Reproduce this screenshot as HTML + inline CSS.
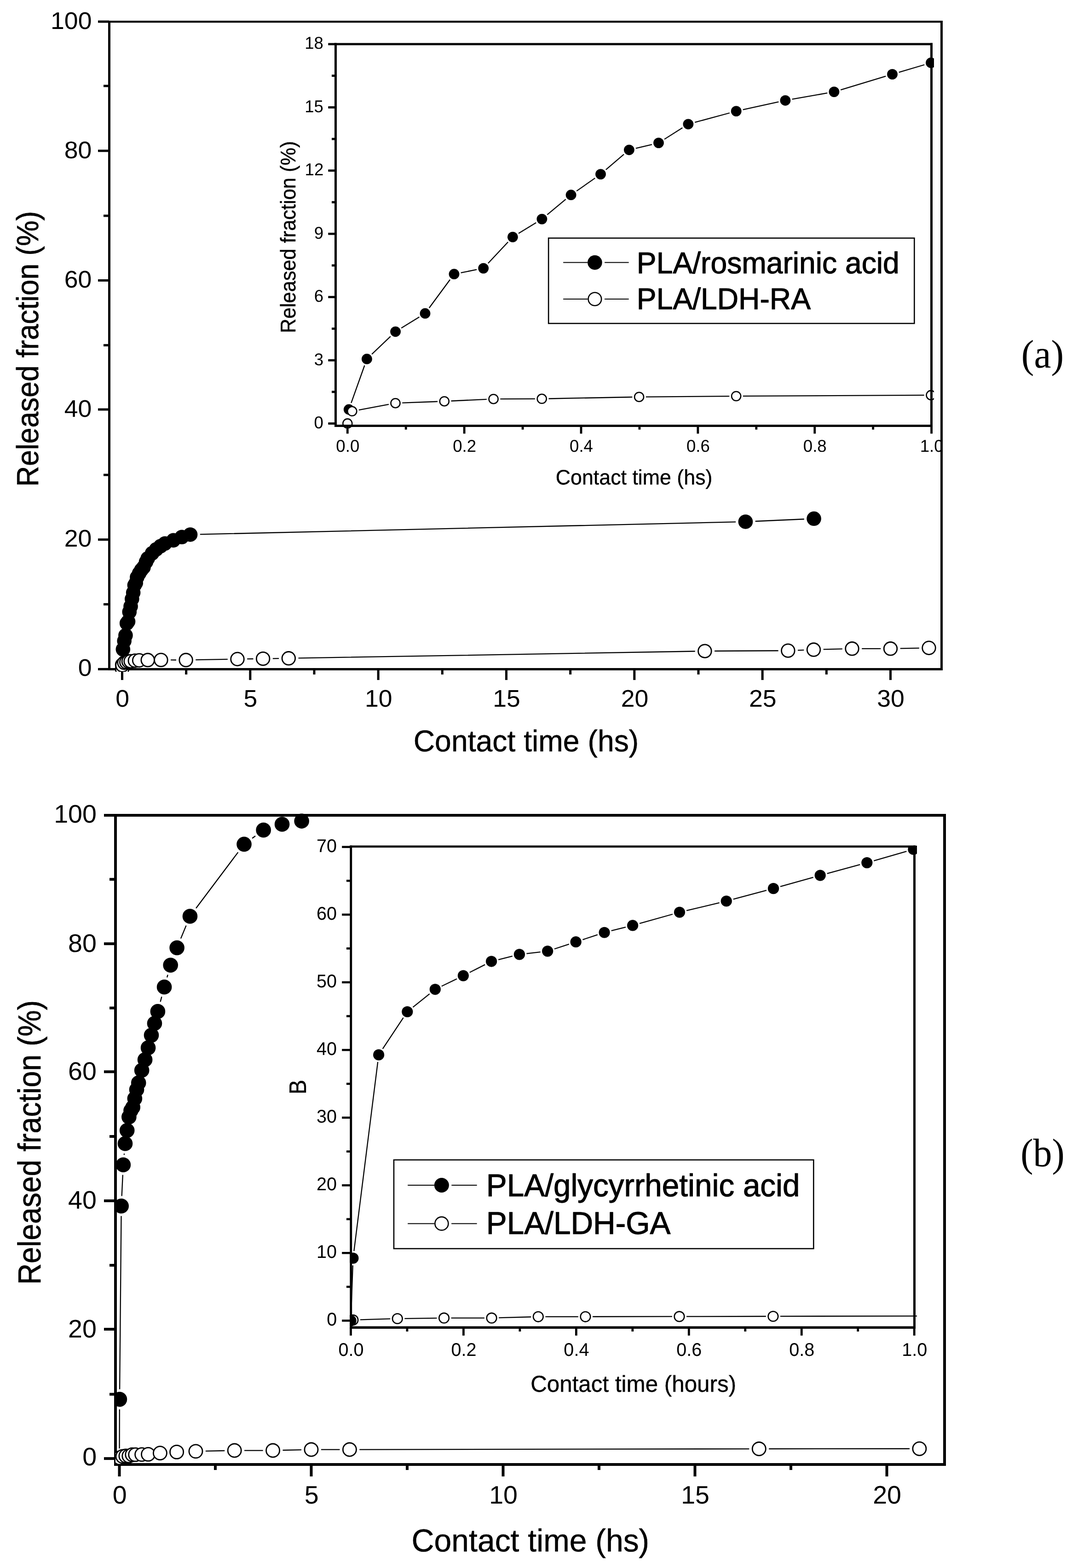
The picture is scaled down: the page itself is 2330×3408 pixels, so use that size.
<!DOCTYPE html>
<html lang="en"><head><meta charset="utf-8"><title>Release kinetics of PLA films</title>
<style>html,body{margin:0;padding:0;background:#fff}svg{display:block}text{fill:#000;white-space:pre}</style></head><body>
<svg width="2330" height="3408" viewBox="0 0 2330 3408" role="img" aria-label="Release kinetics figure" text-rendering="geometricPrecision">
<rect width="2330" height="3408" fill="#fff"/>
<defs>
<clipPath id="cA"><rect x="232" y="42" width="1820" height="1418"/></clipPath>
<clipPath id="cAi"><rect x="724" y="90" width="1306" height="841"/></clipPath>
<clipPath id="cAt"><rect x="0" y="0" width="2044" height="1700"/></clipPath>
<clipPath id="cB"><rect x="251" y="1766" width="1808" height="1422"/></clipPath>
<clipPath id="cBi"><rect x="760.4" y="1838" width="1232.6" height="1053"/></clipPath>
</defs>
<g id="plot-a">
<rect x="235" y="45" width="1814" height="4.3" fill="#000"/>
<rect x="235" y="1452" width="1814" height="5" fill="#000"/>
<rect x="235" y="45" width="5" height="1412" fill="#000"/>
<rect x="2044" y="45" width="5" height="1412" fill="#000"/>
<rect x="213" y="1451.9" width="24" height="5" fill="#000"/>
<rect x="225" y="1310.9" width="12" height="5" fill="#000"/>
<rect x="213" y="1170.3" width="24" height="5" fill="#000"/>
<rect x="225" y="1029.7" width="12" height="5" fill="#000"/>
<rect x="213" y="887.5" width="24" height="5" fill="#000"/>
<rect x="225" y="747.8" width="12" height="5" fill="#000"/>
<rect x="213" y="607" width="24" height="5" fill="#000"/>
<rect x="225" y="466.5" width="12" height="5" fill="#000"/>
<rect x="213" y="325.3" width="24" height="5" fill="#000"/>
<rect x="225" y="184.3" width="12" height="5" fill="#000"/>
<rect x="213" y="44.5" width="24" height="5" fill="#000"/>
<rect x="263" y="1455" width="5" height="23" fill="#000"/>
<rect x="402.17" y="1455" width="5" height="11" fill="#000"/>
<rect x="541.34" y="1455" width="5" height="23" fill="#000"/>
<rect x="680.5" y="1455" width="5" height="11" fill="#000"/>
<rect x="819.67" y="1455" width="5" height="23" fill="#000"/>
<rect x="958.84" y="1455" width="5" height="11" fill="#000"/>
<rect x="1098.01" y="1455" width="5" height="23" fill="#000"/>
<rect x="1237.17" y="1455" width="5" height="11" fill="#000"/>
<rect x="1376.34" y="1455" width="5" height="23" fill="#000"/>
<rect x="1515.51" y="1455" width="5" height="11" fill="#000"/>
<rect x="1654.67" y="1455" width="5" height="23" fill="#000"/>
<rect x="1793.84" y="1455" width="5" height="11" fill="#000"/>
<rect x="1933.01" y="1455" width="5" height="23" fill="#000"/>
<text transform="translate(169.8 1468.5) scale(1.0229 1)" font-family="'Liberation Sans', sans-serif" font-size="52.4">0</text>
<text transform="translate(139.78 1188.2) scale(1.0229 1)" font-family="'Liberation Sans', sans-serif" font-size="52.4">20</text>
<text transform="translate(139.78 905.7) scale(1.0229 1)" font-family="'Liberation Sans', sans-serif" font-size="52.4">40</text>
<text transform="translate(139.78 624.6) scale(1.0229 1)" font-family="'Liberation Sans', sans-serif" font-size="52.4">60</text>
<text transform="translate(139.78 344) scale(1.0229 1)" font-family="'Liberation Sans', sans-serif" font-size="52.4">80</text>
<text transform="translate(110.03 62.6) scale(1.0229 1)" font-family="'Liberation Sans', sans-serif" font-size="52.4">100</text>
<text transform="translate(266.1 1536) scale(1.0229 1)" text-anchor="middle" font-family="'Liberation Sans', sans-serif" font-size="52.4">0</text>
<text transform="translate(544.44 1536) scale(1.0229 1)" text-anchor="middle" font-family="'Liberation Sans', sans-serif" font-size="52.4">5</text>
<text transform="translate(822.77 1536) scale(1.0229 1)" text-anchor="middle" font-family="'Liberation Sans', sans-serif" font-size="52.4">10</text>
<text transform="translate(1101.11 1536) scale(1.0229 1)" text-anchor="middle" font-family="'Liberation Sans', sans-serif" font-size="52.4">15</text>
<text transform="translate(1379.44 1536) scale(1.0229 1)" text-anchor="middle" font-family="'Liberation Sans', sans-serif" font-size="52.4">20</text>
<text transform="translate(1657.77 1536) scale(1.0229 1)" text-anchor="middle" font-family="'Liberation Sans', sans-serif" font-size="52.4">25</text>
<text transform="translate(1936.11 1536) scale(1.0229 1)" text-anchor="middle" font-family="'Liberation Sans', sans-serif" font-size="52.4">30</text>
<text transform="translate(898.68 1633.2) scale(0.9817 1)" font-family="'Liberation Sans', sans-serif" font-size="65.5" stroke="#000" stroke-width="0.5" stroke-linejoin="round">Contact time (hs)</text>
<text transform="translate(83.2 1057.68) rotate(-90) scale(0.9368 1)" font-family="'Liberation Sans', sans-serif" font-size="66.5" stroke="#000" stroke-width="0.7" stroke-linejoin="round">Released fraction (%)</text>
<g clip-path="url(#cA)">
<path d="M434.87 1161.45L1599.14 1134.43M1641.71 1132.99L1747.79 1128.27" fill="none" stroke="#000" stroke-width="2.3"/>
<circle cx="265.63" cy="1445.04" r="15.8" fill="#000"/>
<circle cx="267.35" cy="1411.33" r="15.8" fill="#000"/>
<circle cx="270.14" cy="1393.11" r="15.8" fill="#000"/>
<circle cx="272.92" cy="1380.93" r="15.8" fill="#000"/>
<circle cx="275.7" cy="1354.76" r="15.8" fill="#000"/>
<circle cx="278.49" cy="1350.82" r="15.8" fill="#000"/>
<circle cx="281.27" cy="1329.99" r="15.8" fill="#000"/>
<circle cx="284.05" cy="1318.02" r="15.8" fill="#000"/>
<circle cx="286.84" cy="1301.84" r="15.8" fill="#000"/>
<circle cx="289.62" cy="1288.05" r="15.8" fill="#000"/>
<circle cx="292.4" cy="1271.86" r="15.8" fill="#000"/>
<circle cx="295.19" cy="1267.22" r="15.8" fill="#000"/>
<circle cx="297.97" cy="1254.69" r="15.8" fill="#000"/>
<circle cx="302.61" cy="1245.96" r="15.8" fill="#000"/>
<circle cx="307.25" cy="1238.79" r="15.8" fill="#000"/>
<circle cx="311.89" cy="1233.16" r="15.8" fill="#000"/>
<circle cx="317.45" cy="1221.33" r="15.8" fill="#000"/>
<circle cx="321.17" cy="1213.73" r="15.8" fill="#000"/>
<circle cx="330.63" cy="1202.48" r="15.8" fill="#000"/>
<circle cx="339.54" cy="1194.03" r="15.8" fill="#000"/>
<circle cx="349" cy="1186.99" r="15.8" fill="#000"/>
<circle cx="358.46" cy="1181.36" r="15.8" fill="#000"/>
<circle cx="376.83" cy="1174.33" r="15.8" fill="#000"/>
<circle cx="395.2" cy="1167.29" r="15.8" fill="#000"/>
<circle cx="413.57" cy="1161.94" r="15.8" fill="#000"/>
<circle cx="1620.43" cy="1133.94" r="15.8" fill="#000"/>
<circle cx="1769.07" cy="1127.32" r="15.8" fill="#000"/>
</g>
<g clip-path="url(#cA)">
<path d="M371.09 1434.47L382.91 1434.5M425.31 1434.17L494.81 1432.89M537.2 1432.2L550.47 1432M592.87 1431.36L606.14 1431.14M648.53 1430.43L1510.73 1415.5M1553.12 1415.02L1691.64 1414.26M1734.03 1413.34L1747.32 1412.84M1789.7 1411.47L1830.82 1410.36M1873.21 1409.79L1914.31 1409.79M1956.71 1409.39L1997.81 1408.63" fill="none" stroke="#000" stroke-width="2.3"/>
<circle cx="265.5" cy="1454.4" r="14.3" fill="#fff" stroke="#000" stroke-width="2.8"/>
<circle cx="265.95" cy="1445.96" r="14.3" fill="#fff" stroke="#000" stroke-width="2.8"/>
<circle cx="270.14" cy="1440.33" r="14.3" fill="#fff" stroke="#000" stroke-width="2.8"/>
<circle cx="274.78" cy="1439.2" r="14.3" fill="#fff" stroke="#000" stroke-width="2.8"/>
<circle cx="279.42" cy="1437.51" r="14.3" fill="#fff" stroke="#000" stroke-width="2.8"/>
<circle cx="284.05" cy="1437.23" r="14.3" fill="#fff" stroke="#000" stroke-width="2.8"/>
<circle cx="293.33" cy="1435.96" r="14.3" fill="#fff" stroke="#000" stroke-width="2.8"/>
<circle cx="302.61" cy="1435.26" r="14.3" fill="#fff" stroke="#000" stroke-width="2.8"/>
<circle cx="321.17" cy="1434.56" r="14.3" fill="#fff" stroke="#000" stroke-width="2.8"/>
<circle cx="349.89" cy="1434.41" r="14.3" fill="#fff" stroke="#000" stroke-width="2.8"/>
<circle cx="404.11" cy="1434.56" r="14.3" fill="#fff" stroke="#000" stroke-width="2.8"/>
<circle cx="516" cy="1432.5" r="14.3" fill="#fff" stroke="#000" stroke-width="2.8"/>
<circle cx="571.67" cy="1431.7" r="14.3" fill="#fff" stroke="#000" stroke-width="2.8"/>
<circle cx="627.34" cy="1430.8" r="14.3" fill="#fff" stroke="#000" stroke-width="2.8"/>
<circle cx="1531.92" cy="1415.13" r="14.3" fill="#fff" stroke="#000" stroke-width="2.8"/>
<circle cx="1712.84" cy="1414.15" r="14.3" fill="#fff" stroke="#000" stroke-width="2.8"/>
<circle cx="1768.51" cy="1412.04" r="14.3" fill="#fff" stroke="#000" stroke-width="2.8"/>
<circle cx="1852.01" cy="1409.79" r="14.3" fill="#fff" stroke="#000" stroke-width="2.8"/>
<circle cx="1935.51" cy="1409.79" r="14.3" fill="#fff" stroke="#000" stroke-width="2.8"/>
<circle cx="2019.01" cy="1408.24" r="14.3" fill="#fff" stroke="#000" stroke-width="2.8"/>
</g>
</g>
<g id="inset-a">
<text transform="translate(682.55 931) scale(0.9812 1)" font-family="'Liberation Sans', sans-serif" font-size="37.3">0</text>
<text transform="translate(682.73 793.57) scale(0.9812 1)" font-family="'Liberation Sans', sans-serif" font-size="37.3">3</text>
<text transform="translate(682.73 656.14) scale(0.9812 1)" font-family="'Liberation Sans', sans-serif" font-size="37.3">6</text>
<text transform="translate(682.73 518.71) scale(0.9812 1)" font-family="'Liberation Sans', sans-serif" font-size="37.3">9</text>
<text transform="translate(662.6 381.28) scale(0.9812 1)" font-family="'Liberation Sans', sans-serif" font-size="37.3">12</text>
<text transform="translate(662.24 243.85) scale(0.9812 1)" font-family="'Liberation Sans', sans-serif" font-size="37.3">15</text>
<text transform="translate(662.24 106.42) scale(0.9812 1)" font-family="'Liberation Sans', sans-serif" font-size="37.3">18</text>
<text transform="translate(755.8 982) scale(0.9812 1)" text-anchor="middle" font-family="'Liberation Sans', sans-serif" font-size="37.3">0.0</text>
<text transform="translate(1009.66 982) scale(0.9812 1)" text-anchor="middle" font-family="'Liberation Sans', sans-serif" font-size="37.3">0.2</text>
<text transform="translate(1263.52 982) scale(0.9812 1)" text-anchor="middle" font-family="'Liberation Sans', sans-serif" font-size="37.3">0.4</text>
<text transform="translate(1517.38 982) scale(0.9812 1)" text-anchor="middle" font-family="'Liberation Sans', sans-serif" font-size="37.3">0.6</text>
<text transform="translate(1771.24 982) scale(0.9812 1)" text-anchor="middle" font-family="'Liberation Sans', sans-serif" font-size="37.3">0.8</text>
<g clip-path="url(#cAt)"><text transform="translate(2025.1 982) scale(0.9812 1)" text-anchor="middle" font-family="'Liberation Sans', sans-serif" font-size="37.3">1.0</text></g>
<text transform="translate(1207.76 1052.6) scale(0.9814 1)" font-family="'Liberation Sans', sans-serif" font-size="45.6" stroke="#000" stroke-width="0.4" stroke-linejoin="round">Contact time (hs)</text>
<text transform="translate(642.4 723.77) rotate(-90) scale(0.9435 1)" font-family="'Liberation Sans', sans-serif" font-size="46" stroke="#000" stroke-width="0.5" stroke-linejoin="round">Released fraction (%)</text>
<g clip-path="url(#cAi)">
<path d="M763.3 875.96L792.4 794.24M808.18 769.91L848.82 731.09M872.29 713L911.31 689M932.84 669.2L978.16 607.7M1001.62 592.81L1036.08 585.99M1060.89 572.23L1104.21 525.97M1127.1 507.3L1165.2 483.9M1189.37 466.59L1229.63 433.21M1253.3 415.15L1293.3 387.15M1316.84 368.93L1356.06 335.47M1381.9 322.36L1417 314.04M1444.09 302.63L1483.31 277.77M1510.28 265.91L1585.82 245.49M1614.76 238.42L1692.34 221.48M1721.57 215.71L1798.23 202.19M1827.16 195.3L1925.24 165.7M1953.79 157.17L2009.21 140.73" fill="none" stroke="#000" stroke-width="2.3"/>
<circle cx="758.3" cy="890" r="11.4" fill="#000"/>
<circle cx="797.4" cy="780.2" r="11.4" fill="#000"/>
<circle cx="859.6" cy="720.8" r="11.4" fill="#000"/>
<circle cx="924" cy="681.2" r="11.4" fill="#000"/>
<circle cx="987" cy="595.7" r="11.4" fill="#000"/>
<circle cx="1050.7" cy="583.1" r="11.4" fill="#000"/>
<circle cx="1114.4" cy="515.1" r="11.4" fill="#000"/>
<circle cx="1177.9" cy="476.1" r="11.4" fill="#000"/>
<circle cx="1241.1" cy="423.7" r="11.4" fill="#000"/>
<circle cx="1305.5" cy="378.6" r="11.4" fill="#000"/>
<circle cx="1367.4" cy="325.8" r="11.4" fill="#000"/>
<circle cx="1431.5" cy="310.6" r="11.4" fill="#000"/>
<circle cx="1495.9" cy="269.8" r="11.4" fill="#000"/>
<circle cx="1600.2" cy="241.6" r="11.4" fill="#000"/>
<circle cx="1706.9" cy="218.3" r="11.4" fill="#000"/>
<circle cx="1812.9" cy="199.6" r="11.4" fill="#000"/>
<circle cx="1939.5" cy="161.4" r="11.4" fill="#000"/>
<circle cx="2023.5" cy="136.5" r="11.4" fill="#000"/>
</g>
<g clip-path="url(#cAi)">
<path d="M779.85 891.08L844.95 878.92M874.29 875.64L951.01 872.76M980.58 871.51L1057.82 867.89M1087.4 867.14L1162.9 866.86M1192.5 866.51L1374.3 862.99M1403.9 862.58L1585.3 861.12M1614.9 860.93L2008.7 858.97" fill="none" stroke="#000" stroke-width="2.3"/>
<circle cx="755.3" cy="920.4" r="10" fill="#fff" stroke="#000" stroke-width="2.6"/>
<circle cx="765.3" cy="893.8" r="10" fill="#fff" stroke="#000" stroke-width="2.6"/>
<circle cx="859.5" cy="876.2" r="10" fill="#fff" stroke="#000" stroke-width="2.6"/>
<circle cx="965.8" cy="872.2" r="10" fill="#fff" stroke="#000" stroke-width="2.6"/>
<circle cx="1072.6" cy="867.2" r="10" fill="#fff" stroke="#000" stroke-width="2.6"/>
<circle cx="1177.7" cy="866.8" r="10" fill="#fff" stroke="#000" stroke-width="2.6"/>
<circle cx="1389.1" cy="862.7" r="10" fill="#fff" stroke="#000" stroke-width="2.6"/>
<circle cx="1600.1" cy="861" r="10" fill="#fff" stroke="#000" stroke-width="2.6"/>
<circle cx="2023.5" cy="858.9" r="10" fill="#fff" stroke="#000" stroke-width="2.6"/>
</g>
<rect x="727" y="93.5" width="1300" height="4.8" fill="#000"/>
<rect x="727" y="923" width="1300" height="5" fill="#000"/>
<rect x="727" y="93.5" width="5" height="834.5" fill="#000"/>
<rect x="2022" y="93.5" width="5" height="834.5" fill="#000"/>
<rect x="713.3" y="918.1" width="15.7" height="4.8" fill="#000"/>
<rect x="721" y="849.38" width="8" height="4.8" fill="#000"/>
<rect x="713.3" y="780.67" width="15.7" height="4.8" fill="#000"/>
<rect x="721" y="711.96" width="8" height="4.8" fill="#000"/>
<rect x="713.3" y="643.24" width="15.7" height="4.8" fill="#000"/>
<rect x="721" y="574.52" width="8" height="4.8" fill="#000"/>
<rect x="713.3" y="505.81" width="15.7" height="4.8" fill="#000"/>
<rect x="721" y="437.1" width="8" height="4.8" fill="#000"/>
<rect x="713.3" y="368.38" width="15.7" height="4.8" fill="#000"/>
<rect x="721" y="299.66" width="8" height="4.8" fill="#000"/>
<rect x="713.3" y="230.95" width="15.7" height="4.8" fill="#000"/>
<rect x="721" y="162.23" width="8" height="4.8" fill="#000"/>
<rect x="713.3" y="93.52" width="15.7" height="4.8" fill="#000"/>
<rect x="752.9" y="925" width="4.8" height="17.5" fill="#000"/>
<rect x="879.83" y="925" width="4.8" height="8.7" fill="#000"/>
<rect x="1006.76" y="925" width="4.8" height="17.5" fill="#000"/>
<rect x="1133.69" y="925" width="4.8" height="8.7" fill="#000"/>
<rect x="1260.62" y="925" width="4.8" height="17.5" fill="#000"/>
<rect x="1387.55" y="925" width="4.8" height="8.7" fill="#000"/>
<rect x="1514.48" y="925" width="4.8" height="17.5" fill="#000"/>
<rect x="1641.41" y="925" width="4.8" height="8.7" fill="#000"/>
<rect x="1768.34" y="925" width="4.8" height="17.5" fill="#000"/>
<rect x="1895.27" y="925" width="4.8" height="8.7" fill="#000"/>
<rect x="2022.2" y="925" width="4.8" height="17.5" fill="#000"/>
<rect x="1192.2" y="517.5" width="795.1" height="185.5" fill="#fff" stroke="#000" stroke-width="2.6"/>
<path d="M1224.2 570.6H1277.1M1314.2 570.6H1366.6" fill="none" stroke="#000" stroke-width="2"/>
<circle cx="1292.9" cy="570.6" r="15.8" fill="#000"/>
<path d="M1224.2 650H1277.3M1314 650H1366.6" fill="none" stroke="#000" stroke-width="2"/>
<circle cx="1292.9" cy="650" r="14.3" fill="#fff" stroke="#000" stroke-width="2.6"/>
<text transform="translate(1383.86 593.8) scale(0.9802 1)" font-family="'Liberation Sans', sans-serif" font-size="65.5" stroke="#000" stroke-width="1.1" stroke-linejoin="round">PLA/rosmarinic acid</text>
<text transform="translate(1383.86 671.9) scale(0.9802 1)" font-family="'Liberation Sans', sans-serif" font-size="65.5" stroke="#000" stroke-width="1.1" stroke-linejoin="round">PLA/LDH-RA</text>
</g>
<text transform="translate(2219.86 798.7) scale(0.9552 1)" font-family="'Liberation Serif', serif" font-size="87">(a)</text>
<g id="plot-b">
<rect x="248" y="1769" width="1808" height="6" fill="#000"/>
<rect x="248" y="3180" width="1808" height="6" fill="#000"/>
<rect x="248" y="1769" width="6" height="1417" fill="#000"/>
<rect x="2050" y="1769" width="6" height="1417" fill="#000"/>
<rect x="226" y="3167.1" width="24" height="6" fill="#000"/>
<rect x="238" y="3027.4" width="12" height="6" fill="#000"/>
<rect x="226" y="2886" width="24" height="6" fill="#000"/>
<rect x="238" y="2747" width="12" height="6" fill="#000"/>
<rect x="226" y="2606.9" width="24" height="6" fill="#000"/>
<rect x="238" y="2467" width="12" height="6" fill="#000"/>
<rect x="226" y="2326.4" width="24" height="6" fill="#000"/>
<rect x="238" y="2187.8" width="12" height="6" fill="#000"/>
<rect x="226" y="2048.2" width="24" height="6" fill="#000"/>
<rect x="238" y="1908.2" width="12" height="6" fill="#000"/>
<rect x="226" y="1769" width="24" height="6" fill="#000"/>
<rect x="256.5" y="3183" width="6" height="26" fill="#000"/>
<rect x="465" y="3183" width="6" height="12" fill="#000"/>
<rect x="673.5" y="3183" width="6" height="26" fill="#000"/>
<rect x="882" y="3183" width="6" height="12" fill="#000"/>
<rect x="1090.5" y="3183" width="6" height="26" fill="#000"/>
<rect x="1299" y="3183" width="6" height="12" fill="#000"/>
<rect x="1507.5" y="3183" width="6" height="26" fill="#000"/>
<rect x="1716" y="3183" width="6" height="12" fill="#000"/>
<rect x="1924.5" y="3183" width="6" height="26" fill="#000"/>
<text transform="translate(179.17 3184.7) scale(1.0054 1)" font-family="'Liberation Sans', sans-serif" font-size="55.3">0</text>
<text transform="translate(148.03 2906.8) scale(1.0054 1)" font-family="'Liberation Sans', sans-serif" font-size="55.3">20</text>
<text transform="translate(148.03 2626.8) scale(1.0054 1)" font-family="'Liberation Sans', sans-serif" font-size="55.3">40</text>
<text transform="translate(148.03 2347.2) scale(1.0054 1)" font-family="'Liberation Sans', sans-serif" font-size="55.3">60</text>
<text transform="translate(148.03 2068.6) scale(1.0054 1)" font-family="'Liberation Sans', sans-serif" font-size="55.3">80</text>
<text transform="translate(117.17 1787.8) scale(1.0054 1)" font-family="'Liberation Sans', sans-serif" font-size="55.3">100</text>
<text transform="translate(260.1 3268.4) scale(1.0109 1)" text-anchor="middle" font-family="'Liberation Sans', sans-serif" font-size="55">0</text>
<text transform="translate(677.1 3268.4) scale(1.0109 1)" text-anchor="middle" font-family="'Liberation Sans', sans-serif" font-size="55">5</text>
<text transform="translate(1094.1 3268.4) scale(1.0109 1)" text-anchor="middle" font-family="'Liberation Sans', sans-serif" font-size="55">10</text>
<text transform="translate(1511.1 3268.4) scale(1.0109 1)" text-anchor="middle" font-family="'Liberation Sans', sans-serif" font-size="55">15</text>
<text transform="translate(1928.1 3268.4) scale(1.0109 1)" text-anchor="middle" font-family="'Liberation Sans', sans-serif" font-size="55">20</text>
<text transform="translate(894.61 3371.8) scale(0.9833 1)" font-family="'Liberation Sans', sans-serif" font-size="69" stroke="#000" stroke-width="0.5" stroke-linejoin="round">Contact time (hs)</text>
<text transform="translate(87.8 2792.34) rotate(-90) scale(0.9252 1)" font-family="'Liberation Sans', sans-serif" font-size="69.5" stroke="#000" stroke-width="0.7" stroke-linejoin="round">Released fraction (%)</text>
<g clip-path="url(#cB)">
<path d="M259.57 3148.2L259.85 3063.18M260.11 3019.58L263.48 2643.08M264.68 2599.51L266.83 2553.59M269.8 2510.1L270.05 2507.25M348.52 2177.33L351.46 2166.33M363.07 2124.31L364.68 2118.69M392.94 2039.85L404.62 2011.63M426.05 1974.05L517.46 1852.34M548.16 1822.05L555.06 1817.01" fill="none" stroke="#000" stroke-width="2.3"/>
<circle cx="259.5" cy="3170" r="16.3" fill="#000"/>
<circle cx="259.92" cy="3041.38" r="16.3" fill="#000"/>
<circle cx="263.67" cy="2621.28" r="16.3" fill="#000"/>
<circle cx="267.84" cy="2531.81" r="16.3" fill="#000"/>
<circle cx="272.01" cy="2485.54" r="16.3" fill="#000"/>
<circle cx="276.18" cy="2457.02" r="16.3" fill="#000"/>
<circle cx="280.35" cy="2427.66" r="16.3" fill="#000"/>
<circle cx="284.52" cy="2413.68" r="16.3" fill="#000"/>
<circle cx="288.69" cy="2406.69" r="16.3" fill="#000"/>
<circle cx="292.86" cy="2387.82" r="16.3" fill="#000"/>
<circle cx="297.03" cy="2368.25" r="16.3" fill="#000"/>
<circle cx="301.2" cy="2353.57" r="16.3" fill="#000"/>
<circle cx="308.15" cy="2326.31" r="16.3" fill="#000"/>
<circle cx="315.1" cy="2303.24" r="16.3" fill="#000"/>
<circle cx="322.05" cy="2277.38" r="16.3" fill="#000"/>
<circle cx="329" cy="2250.12" r="16.3" fill="#000"/>
<circle cx="335.95" cy="2224.25" r="16.3" fill="#000"/>
<circle cx="342.9" cy="2198.39" r="16.3" fill="#000"/>
<circle cx="357.08" cy="2145.27" r="16.3" fill="#000"/>
<circle cx="370.67" cy="2097.73" r="16.3" fill="#000"/>
<circle cx="384.6" cy="2059.99" r="16.3" fill="#000"/>
<circle cx="412.96" cy="1991.49" r="16.3" fill="#000"/>
<circle cx="530.55" cy="1834.91" r="16.3" fill="#000"/>
<circle cx="572.67" cy="1804.15" r="16.3" fill="#000"/>
<circle cx="613.12" cy="1791.57" r="16.3" fill="#000"/>
<circle cx="655.65" cy="1784.58" r="16.3" fill="#000"/>
</g>
<g clip-path="url(#cB)">
<path d="M446.91 3153.88L488.25 3152.99M531.15 3152.53L571.65 3152.53M614.54 3152.02L655.06 3151.07M697.95 3150.57L738.45 3150.57M781.35 3150.53L1628.33 3149.07M1671.23 3149.01L1976.94 3148.77" fill="none" stroke="#000" stroke-width="2.3"/>
<circle cx="259.5" cy="3170" r="14.55" fill="#fff" stroke="#000" stroke-width="2.8"/>
<circle cx="259.83" cy="3168.6" r="14.55" fill="#fff" stroke="#000" stroke-width="2.8"/>
<circle cx="266.45" cy="3165.39" r="14.55" fill="#fff" stroke="#000" stroke-width="2.8"/>
<circle cx="273.4" cy="3164.41" r="14.55" fill="#fff" stroke="#000" stroke-width="2.8"/>
<circle cx="280.35" cy="3164.41" r="14.55" fill="#fff" stroke="#000" stroke-width="2.8"/>
<circle cx="287.3" cy="3161.61" r="14.55" fill="#fff" stroke="#000" stroke-width="2.8"/>
<circle cx="294.25" cy="3161.61" r="14.55" fill="#fff" stroke="#000" stroke-width="2.8"/>
<circle cx="308.15" cy="3161.33" r="14.55" fill="#fff" stroke="#000" stroke-width="2.8"/>
<circle cx="322.05" cy="3160.91" r="14.55" fill="#fff" stroke="#000" stroke-width="2.8"/>
<circle cx="347.9" cy="3158.26" r="14.55" fill="#fff" stroke="#000" stroke-width="2.8"/>
<circle cx="384.1" cy="3155.88" r="14.55" fill="#fff" stroke="#000" stroke-width="2.8"/>
<circle cx="425.47" cy="3154.34" r="14.55" fill="#fff" stroke="#000" stroke-width="2.8"/>
<circle cx="509.7" cy="3152.53" r="14.55" fill="#fff" stroke="#000" stroke-width="2.8"/>
<circle cx="593.1" cy="3152.53" r="14.55" fill="#fff" stroke="#000" stroke-width="2.8"/>
<circle cx="676.5" cy="3150.57" r="14.55" fill="#fff" stroke="#000" stroke-width="2.8"/>
<circle cx="759.9" cy="3150.57" r="14.55" fill="#fff" stroke="#000" stroke-width="2.8"/>
<circle cx="1649.78" cy="3149.03" r="14.55" fill="#fff" stroke="#000" stroke-width="2.8"/>
<circle cx="1998.39" cy="3148.75" r="14.55" fill="#fff" stroke="#000" stroke-width="2.8"/>
</g>
</g>
<g id="inset-b">
<text transform="translate(710.21 2881.4) scale(0.9900 1)" font-family="'Liberation Sans', sans-serif" font-size="40">0</text>
<text transform="translate(688.03 2734.32) scale(0.9900 1)" font-family="'Liberation Sans', sans-serif" font-size="40">10</text>
<text transform="translate(688.03 2587.24) scale(0.9900 1)" font-family="'Liberation Sans', sans-serif" font-size="40">20</text>
<text transform="translate(688.03 2440.16) scale(0.9900 1)" font-family="'Liberation Sans', sans-serif" font-size="40">30</text>
<text transform="translate(688.03 2293.08) scale(0.9900 1)" font-family="'Liberation Sans', sans-serif" font-size="40">40</text>
<text transform="translate(688.03 2146) scale(0.9900 1)" font-family="'Liberation Sans', sans-serif" font-size="40">50</text>
<text transform="translate(688.03 1998.92) scale(0.9900 1)" font-family="'Liberation Sans', sans-serif" font-size="40">60</text>
<text transform="translate(688.03 1851.84) scale(0.9900 1)" font-family="'Liberation Sans', sans-serif" font-size="40">70</text>
<text transform="translate(763 2947.3) scale(0.9900 1)" text-anchor="middle" font-family="'Liberation Sans', sans-serif" font-size="40">0.0</text>
<text transform="translate(1007.94 2947.3) scale(0.9900 1)" text-anchor="middle" font-family="'Liberation Sans', sans-serif" font-size="40">0.2</text>
<text transform="translate(1252.88 2947.3) scale(0.9900 1)" text-anchor="middle" font-family="'Liberation Sans', sans-serif" font-size="40">0.4</text>
<text transform="translate(1497.82 2947.3) scale(0.9900 1)" text-anchor="middle" font-family="'Liberation Sans', sans-serif" font-size="40">0.6</text>
<text transform="translate(1742.76 2947.3) scale(0.9900 1)" text-anchor="middle" font-family="'Liberation Sans', sans-serif" font-size="40">0.8</text>
<text transform="translate(1987.7 2947.3) scale(0.9900 1)" text-anchor="middle" font-family="'Liberation Sans', sans-serif" font-size="40">1.0</text>
<text transform="translate(1153.13 3025) scale(0.9831 1)" font-family="'Liberation Sans', sans-serif" font-size="50.2" stroke="#000" stroke-width="0.4" stroke-linejoin="round">Contact time (hours)</text>
<text transform="translate(665.1 2378.74) rotate(-90) scale(0.9231 1)" font-family="'Liberation Sans', sans-serif" font-size="52" stroke="#000" stroke-width="0.4" stroke-linejoin="round">B</text>
<g clip-path="url(#cBi)">
<path d="M782.99 2868.45L848.19 2866.46M879.38 2865.78L949.47 2864.87M980.67 2864.66L1052.95 2864.66M1084.15 2864.22L1154.24 2862.24M1185.44 2861.8L1256.87 2861.8M1288.07 2861.77L1460.9 2861.46M1492.1 2861.39L1664.81 2861.02M1696.01 2860.95L1995 2860.3" fill="none" stroke="#000" stroke-width="2.3"/>
<circle cx="762.5" cy="2870.4" r="10.8" fill="#fff" stroke="#000" stroke-width="2.6"/>
<circle cx="767.4" cy="2868.93" r="10.8" fill="#fff" stroke="#000" stroke-width="2.6"/>
<circle cx="863.78" cy="2865.99" r="10.8" fill="#fff" stroke="#000" stroke-width="2.6"/>
<circle cx="965.07" cy="2864.66" r="10.8" fill="#fff" stroke="#000" stroke-width="2.6"/>
<circle cx="1068.55" cy="2864.66" r="10.8" fill="#fff" stroke="#000" stroke-width="2.6"/>
<circle cx="1169.84" cy="2861.8" r="10.8" fill="#fff" stroke="#000" stroke-width="2.6"/>
<circle cx="1272.47" cy="2861.8" r="10.8" fill="#fff" stroke="#000" stroke-width="2.6"/>
<circle cx="1476.5" cy="2861.43" r="10.8" fill="#fff" stroke="#000" stroke-width="2.6"/>
<circle cx="1680.41" cy="2860.99" r="10.8" fill="#fff" stroke="#000" stroke-width="2.6"/>
</g>
<g clip-path="url(#cBi)">
<path d="M763.06 2854.81L766.84 2750.24M769.35 2719.17L821.17 2308.15M831.75 2279.67L876.71 2211.98M897.49 2189.2L933.68 2160.08M959.87 2143.48L992.92 2127.41M1020.86 2113.52L1054.15 2096.62M1083.2 2085.78L1113.79 2078.17M1144.43 2072.62L1174.67 2069.13M1204.99 2062.48L1236.82 2052.05M1266.46 2042.31L1298.8 2031.64M1328.75 2022.98L1359.96 2015.22M1390.11 2007.23L1461.97 1987M1492.16 1979.15L1563.59 1962.12M1593.83 1954.47L1665.95 1935.18M1696.04 1926.93L1767.66 1906.83M1797.73 1898.54L1869.27 1879.18M1899.31 1870.79L1970.37 1850.31" fill="none" stroke="#000" stroke-width="2.3"/>
<circle cx="762.5" cy="2870.4" r="12.1" fill="#000"/>
<circle cx="767.4" cy="2734.65" r="12.1" fill="#000"/>
<circle cx="823.12" cy="2292.67" r="12.1" fill="#000"/>
<circle cx="885.34" cy="2198.98" r="12.1" fill="#000"/>
<circle cx="945.84" cy="2150.3" r="12.1" fill="#000"/>
<circle cx="1006.95" cy="2120.59" r="12.1" fill="#000"/>
<circle cx="1068.06" cy="2089.55" r="12.1" fill="#000"/>
<circle cx="1128.93" cy="2074.4" r="12.1" fill="#000"/>
<circle cx="1190.17" cy="2067.34" r="12.1" fill="#000"/>
<circle cx="1251.65" cy="2047.19" r="12.1" fill="#000"/>
<circle cx="1313.62" cy="2026.75" r="12.1" fill="#000"/>
<circle cx="1375.09" cy="2011.45" r="12.1" fill="#000"/>
<circle cx="1476.99" cy="1982.77" r="12.1" fill="#000"/>
<circle cx="1578.76" cy="1958.5" r="12.1" fill="#000"/>
<circle cx="1681.03" cy="1931.15" r="12.1" fill="#000"/>
<circle cx="1782.68" cy="1902.61" r="12.1" fill="#000"/>
<circle cx="1884.33" cy="1875.11" r="12.1" fill="#000"/>
<circle cx="1985.36" cy="1845.99" r="12.1" fill="#000"/>
</g>
<rect x="760.4" y="1837.6" width="1229.6" height="4.6" fill="#000"/>
<rect x="760.4" y="2882.6" width="1229.6" height="5.4" fill="#000"/>
<rect x="760.4" y="1837.6" width="4.8" height="1050.4" fill="#000"/>
<rect x="1985" y="1837.6" width="5" height="1050.4" fill="#000"/>
<rect x="743.2" y="2868.1" width="18.8" height="4.6" fill="#000"/>
<rect x="753" y="2794.56" width="9" height="4.6" fill="#000"/>
<rect x="743.2" y="2721.02" width="18.8" height="4.6" fill="#000"/>
<rect x="753" y="2647.48" width="9" height="4.6" fill="#000"/>
<rect x="743.2" y="2573.94" width="18.8" height="4.6" fill="#000"/>
<rect x="753" y="2500.4" width="9" height="4.6" fill="#000"/>
<rect x="743.2" y="2426.86" width="18.8" height="4.6" fill="#000"/>
<rect x="753" y="2353.32" width="9" height="4.6" fill="#000"/>
<rect x="743.2" y="2279.78" width="18.8" height="4.6" fill="#000"/>
<rect x="753" y="2206.24" width="9" height="4.6" fill="#000"/>
<rect x="743.2" y="2132.7" width="18.8" height="4.6" fill="#000"/>
<rect x="753" y="2059.16" width="9" height="4.6" fill="#000"/>
<rect x="743.2" y="1985.62" width="18.8" height="4.6" fill="#000"/>
<rect x="753" y="1912.08" width="9" height="4.6" fill="#000"/>
<rect x="743.2" y="1838.54" width="18.8" height="4.6" fill="#000"/>
<rect x="760.1" y="2885" width="4.8" height="17.8" fill="#000"/>
<rect x="882.57" y="2885" width="4.8" height="9" fill="#000"/>
<rect x="1005.04" y="2885" width="4.8" height="17.8" fill="#000"/>
<rect x="1127.51" y="2885" width="4.8" height="9" fill="#000"/>
<rect x="1249.98" y="2885" width="4.8" height="17.8" fill="#000"/>
<rect x="1372.45" y="2885" width="4.8" height="9" fill="#000"/>
<rect x="1494.92" y="2885" width="4.8" height="17.8" fill="#000"/>
<rect x="1617.39" y="2885" width="4.8" height="9" fill="#000"/>
<rect x="1739.86" y="2885" width="4.8" height="17.8" fill="#000"/>
<rect x="1862.33" y="2885" width="4.8" height="9" fill="#000"/>
<rect x="1984.8" y="2885" width="4.8" height="17.8" fill="#000"/>
<rect x="856" y="2521" width="912.3" height="192.9" fill="#fff" stroke="#000" stroke-width="2.6"/>
<path d="M886.2 2576H943.9M981.4 2576H1036.6" fill="none" stroke="#000" stroke-width="2"/>
<circle cx="959.9" cy="2576" r="16" fill="#000"/>
<path d="M886.2 2659.4H944.1M981.2 2659.4H1036.6" fill="none" stroke="#000" stroke-width="2"/>
<circle cx="959.9" cy="2659.4" r="14.5" fill="#fff" stroke="#000" stroke-width="2.6"/>
<text transform="translate(1056.81 2600) scale(0.9825 1)" font-family="'Liberation Sans', sans-serif" font-size="68.6" stroke="#000" stroke-width="1.1" stroke-linejoin="round">PLA/glycyrrhetinic acid</text>
<text transform="translate(1056.81 2682) scale(0.9825 1)" font-family="'Liberation Sans', sans-serif" font-size="68.6" stroke="#000" stroke-width="1.1" stroke-linejoin="round">PLA/LDH-GA</text>
</g>
<text transform="translate(2218.31 2534.7) scale(0.9447 1)" font-family="'Liberation Serif', serif" font-size="86.8">(b)</text>
</svg></body></html>
